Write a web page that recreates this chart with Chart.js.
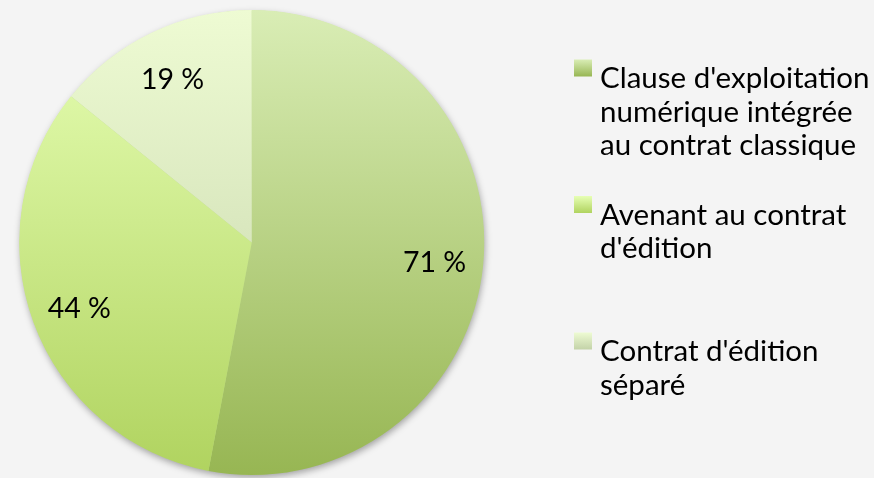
<!DOCTYPE html>
<html>
<head>
<meta charset="utf-8">
<script src="https://cdn.jsdelivr.net/npm/chart.js@4/dist/chart.umd.min.js"></script>
<style>
html,body{margin:0;padding:0;background:#f4f4f4;}
#wrap{width:874px;height:478px;position:relative;}
</style>
</head>
<body>
<div id="wrap"><canvas id="c" width="874" height="478"></canvas></div>
<script>
const categories = [
  ["Clause d'exploitation", "numérique intégrée", "au contrat classique"],
  ["Avenant au contrat", "d'édition"],
  ["Contrat d'édition", "séparé"]
];
const values = [71, 44, 19];
const gradTop = ['#d9edb5', '#e7ffb5', '#eefbd3'];
const gradBottom = ['#97b653', '#b0d35f', '#c3d2a8'];
const FONT = 'Lato, "Open Sans", sans-serif';

function sliceGradient(ctx, i, top, bottom) {
  const g = ctx.createLinearGradient(0, top, 0, bottom);
  g.addColorStop(0, gradTop[i]);
  g.addColorStop(1, gradBottom[i]);
  return g;
}

const shadowPlugin = {
  id: 'shadow',
  beforeDatasetsDraw(chart) {
    const arc = chart.getDatasetMeta(0).data[0];
    if (!arc) return;
    const ctx = chart.ctx;
    ctx.save();
    ctx.shadowColor = 'rgba(0,0,0,0.35)';
    ctx.shadowBlur = 7;
    ctx.shadowOffsetY = 3;
    ctx.shadowOffsetX = 1;
    ctx.beginPath();
    ctx.arc(arc.x, arc.y, arc.outerRadius - 0.5, 0, Math.PI * 2);
    ctx.fillStyle = '#b8d488';
    ctx.fill();
    ctx.restore();
  }
};

const labelPlugin = {
  id: 'sliceLabels',
  afterDatasetsDraw(chart) {
    const ctx = chart.ctx;
    const meta = chart.getDatasetMeta(0);
    ctx.save();
    ctx.font = '28.5px ' + FONT;
    ctx.fillStyle = '#000';
    ctx.textAlign = 'center';
    ctx.textBaseline = 'middle';
    meta.data.forEach((arc, i) => {
      const mid = (arc.startAngle + arc.endAngle) / 2;
      const r = arc.outerRadius * 0.79;
      const x = arc.x + Math.cos(mid) * r;
      const y = arc.y + Math.sin(mid) * r + 3;
      ctx.fillText(values[i] + ' %', x, y);
    });
    ctx.restore();
  }
};

const legendPlugin = {
  id: 'sideLegend',
  afterDraw(chart) {
    const ctx = chart.ctx;
    const x0 = 574, sq = 17, textX = 600;
    const slotTop = 59.5, slot = 136.5, lineH = 33.5;
    ctx.save();
    ctx.font = '29.5px ' + FONT;
    ctx.fillStyle = '#000';
    ctx.textAlign = 'left';
    ctx.textBaseline = 'alphabetic';
    categories.forEach((lines, i) => {
      const top = slotTop + i * slot;
      ctx.fillStyle = sliceGradient(ctx, i, top, top + sq);
      ctx.fillRect(x0, top, sq + 1, sq);
      ctx.fillStyle = '#000';
      lines.forEach((ln, j) => {
        ctx.fillText(ln, textX, top + 28.5 + j * lineH);
      });
    });
    ctx.restore();
  }
};

new Chart(document.getElementById('c'), {
  type: 'pie',
  data: {
    labels: categories,
    datasets: [{
      data: values,
      borderWidth: 0,
      backgroundColor: (c) => {
        const area = c.chart.chartArea;
        if (!area) return gradTop[c.dataIndex];
        return sliceGradient(c.chart.ctx, c.dataIndex, area.top, area.bottom);
      }
    }]
  },
  options: {
    responsive: false,
    animation: false,
    events: [],
    layout: { padding: { left: 18.5, right: 389, top: 10, bottom: 3 } },
    plugins: {
      legend: { display: false },
      tooltip: { enabled: false }
    }
  },
  plugins: [shadowPlugin, labelPlugin, legendPlugin]
});
</script>
</body>
</html>
